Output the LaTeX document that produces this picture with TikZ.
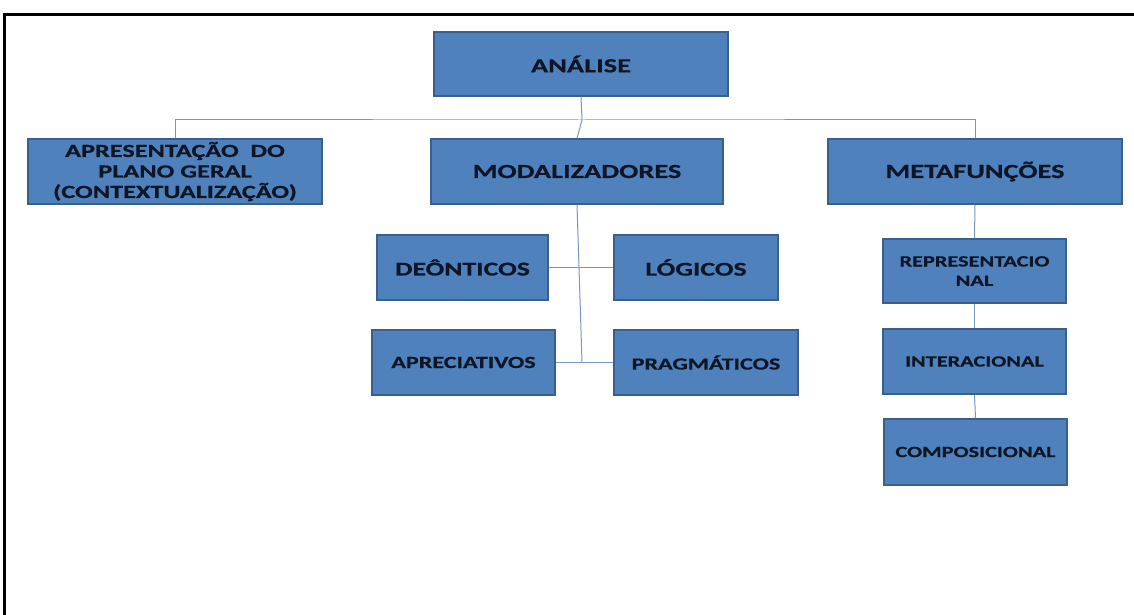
\documentclass[tikz,border=0pt]{standalone}
\usepackage{fontspec}
\setmainfont{Carlito}[FakeStretch=1.42, BoldFeatures={FakeBold=0.6}]
\usetikzlibrary{shadows}

\definecolor{boxfill}{HTML}{4F81BD}
\definecolor{boxedge}{HTML}{3A5F8C}
\definecolor{boxtext}{HTML}{0E1626}
\definecolor{linkcol}{HTML}{7698C0}

\tikzset{
  box/.style={draw=boxedge, fill=boxfill, line width=1.5pt, text=boxtext,
    align=center, inner sep=0pt,
    drop shadow={shadow xshift=1.2pt, shadow yshift=-1.2pt, opacity=0.25, fill=black}},
  link/.style={draw=linkcol, line width=1pt}
}

\begin{document}
\begin{tikzpicture}[x=1pt, y=-1pt, every node/.style={font=\bfseries}]
  \useasboundingbox (0,0) rectangle (1134,615);

  % Frame
  \draw[line width=3pt] (4,615) -- (4,15) -- (1134,15);

  % Top
  \node[box, minimum width=294pt, minimum height=64pt,
        font=\bfseries\fontsize{20}{24}\selectfont] (ana) at (581,64) {ANÁLISE};

  % First row
  \node[box, minimum width=294pt, minimum height=65pt,
        font=\bfseries\fontsize{18.5}{20.5}\selectfont] (apres) at (175,171.5)
        {APRESENTAÇÃO\ \ DO\\PLANO GERAL\\(CONTEXTUALIZAÇÃO)};
  \node[box, minimum width=292pt, minimum height=65pt,
        font=\bfseries\fontsize{20}{24}\selectfont] (mod) at (577,171.5) {MODALIZADORES};
  \node[box, minimum width=294pt, minimum height=65pt,
        font=\bfseries\fontsize{20}{24}\selectfont] (meta) at (975,171.5) {METAFUNÇÕES};

  % Modalizadores
  \node[box, minimum width=171pt, minimum height=65pt,
        font=\bfseries\fontsize{19.5}{24}\selectfont] (deon) at (462.5,267.5) {DEÔNTICOS};
  \node[box, minimum width=164pt, minimum height=65pt,
        font=\bfseries\fontsize{19.5}{24}\selectfont] (logi) at (696,267.5) {LÓGICOS};
  \node[box, minimum width=183pt, minimum height=65pt,
        font=\bfseries\fontsize{17}{20}\selectfont] (apre) at (463.5,362.5) {APRECIATIVOS};
  \node[box, minimum width=184pt, minimum height=65pt,
        font=\bfseries\fontsize{17}{20}\selectfont] (prag) at (706,362.5) {PRAGMÁTICOS};

  % Metafuncoes
  \node[box, minimum width=183pt, minimum height=64pt,
        font=\bfseries\fontsize{15.7}{19.3}\selectfont] (repr) at (974.5,271) {REPRESENTACIO\\NAL};
  \node[box, minimum width=183pt, minimum height=65pt,
        font=\bfseries\fontsize{15.7}{19.3}\selectfont] (inte) at (974.5,361.5) {INTERACIONAL};
  \node[box, minimum width=183pt, minimum height=66pt,
        font=\bfseries\fontsize{15.7}{19.3}\selectfont] (comp) at (975.5,452) {COMPOSICIONAL};

  % Connectors
  \coordinate (hub) at (582,120);
  \coordinate (mbot) at (582,362.5);
  \draw[link] (ana.south) -- (hub);
  \draw[link] (apres.north) |- (hub) -| (meta.north);
  \draw[link] (hub) -- (mod.north);
  \draw[link] (mod.south) -- (mbot);
  \draw[link] (deon.east) -- (logi.west);
  \draw[link] (apre.east) -- (prag.west);
  \draw[link] (meta.south) -- (repr.north);
  \draw[link] (repr.south) -- (inte.north);
  \draw[link] (inte.south) -- (comp.north);
\end{tikzpicture}
\end{document}
